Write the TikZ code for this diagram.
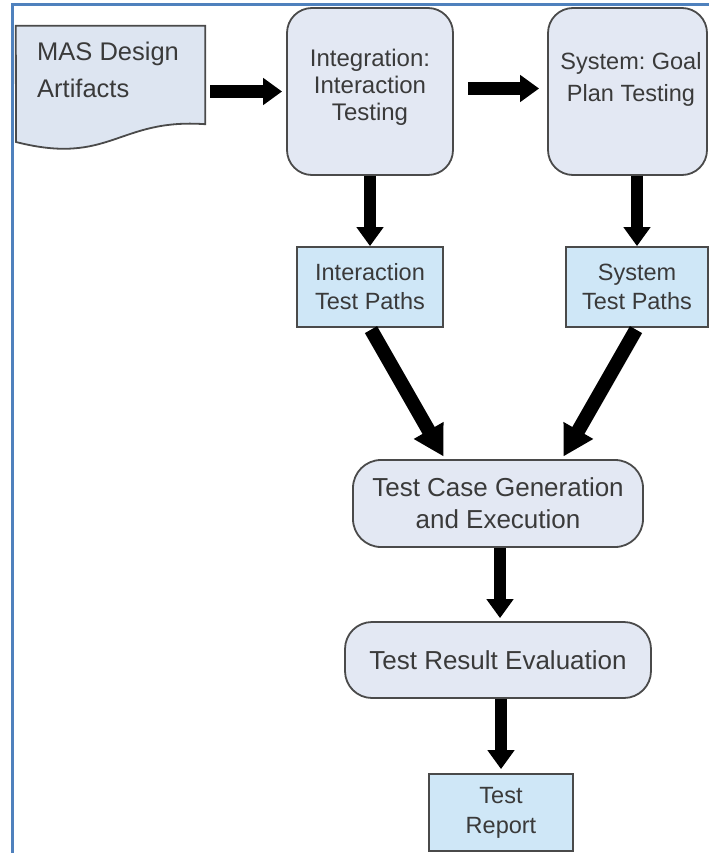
\documentclass[tikz,border=0pt]{standalone}
\usepackage{fontspec}
\setmainfont{Liberation Sans}
\usetikzlibrary{arrows.meta}
\frenchspacing
\definecolor{frameblue}{HTML}{4F81BD}
\definecolor{stagefill}{HTML}{E3E8F3}
\definecolor{docfill}{HTML}{DDE5F1}
\definecolor{pathfill}{HTML}{CFE7F7}
\definecolor{edgegray}{HTML}{4A4A4A}
\definecolor{ink}{HTML}{3A3A3A}
\begin{document}
\begin{tikzpicture}[x=1bp,y=-1bp,
  stage/.style={draw=edgegray, line width=1.8bp, fill=stagefill, rounded corners=25bp, inner sep=0pt},
  pathbox/.style={draw=edgegray, line width=1.8bp, fill=pathfill, inner sep=0pt},
  txt/.style={text=ink, align=center, inner sep=0pt, font=\fontsize{24bp}{27bp}\selectfont},
  flow/.style={line width=12.5bp, -{Triangle[length=19bp,width=26bp]}},
  bigflow/.style={line width=14bp, -{Triangle[length=30bp,width=32bp]}},
  ]
\useasboundingbox (0,0) rectangle (709,853);

% page frame
\draw[frameblue, line width=3bp] (12,853) -- (12,4.5) -- (709,4.5);

% design artifacts (document shape)
\node[inner sep=0pt, minimum width=189bp, minimum height=98bp] (mas) at (110.5,75) {};
\draw[edgegray, line width=1.8bp, fill=docfill]
  (mas.south east) -- (mas.north east) -- (mas.north west) -- (16,142)
  .. controls (110,166) and (118,118) .. (mas.south east) -- cycle;
\node[txt, anchor=north west, align=left, font=\fontsize{25.5bp}{37bp}\selectfont]
  (mas-text) at (37,42) {MAS Design\\Artifacts};

% testing stages
\node[stage, minimum width=166bp, minimum height=167bp] (integ) at (370,91.5) {};
\node[txt] (integ-text) at (370,87.5) {Integration:\\Interaction\\Testing};
\node[stage, minimum width=159bp, minimum height=167bp] (sys) at (627.5,91.5) {};
\node[txt, font=\fontsize{23.5bp}{32bp}\selectfont] (sys-text) at (631,79.5) {System: Goal\\Plan Testing};

% test path outputs
\node[pathbox, txt, minimum width=146bp, minimum height=80bp,
  font=\fontsize{23.5bp}{29bp}\selectfont] (itp) at (370,287) {Interaction\\Test Paths};
\node[pathbox, txt, minimum width=142bp, minimum height=80bp,
  font=\fontsize{23.5bp}{29bp}\selectfont] (stp) at (637,287) {System\\Test Paths};

% execution and evaluation
\node[stage, txt, rounded corners=28bp, minimum width=290bp, minimum height=87bp,
  font=\fontsize{26bp}{32bp}\selectfont] (tcg) at (498,503.5) {Test Case Generation\\and Execution};
\node[stage, txt, rounded corners=27bp, minimum width=306bp, minimum height=76bp,
  font=\fontsize{26bp}{32bp}\selectfont] (tre) at (498,660) {Test Result Evaluation};
\node[pathbox, txt, minimum width=144bp, minimum height=77bp,
  font=\fontsize{23.5bp}{30bp}\selectfont] (rep) at (501,812.5) {Test\\Report};

% connectors
\draw[flow, shorten <=5bp, shorten >=4bp] (mas.east |- integ.west) -- (integ.west);
\draw[flow, shorten <=14bp, shorten >=8bp] ([yshift=3bp]integ.east) -- ([yshift=3bp]sys.west);
\draw[flow] (integ.south) -- (itp.north);
\draw[flow] (stp.north |- sys.south) -- (stp.north);
\draw[bigflow, shorten <=2bp, shorten >=3bp] (itp.south) -- ([xshift=-53bp]tcg.north);
\draw[bigflow, shorten <=2bp, shorten >=3bp] (stp.south) -- ([xshift=64bp]tcg.north);
\draw[flow, shorten >=3bp] ([xshift=2bp]tcg.south) -- ([xshift=2bp]tre.north);
\draw[flow, shorten >=4bp] (rep.north |- tre.south) -- (rep.north);
\end{tikzpicture}
\end{document}
